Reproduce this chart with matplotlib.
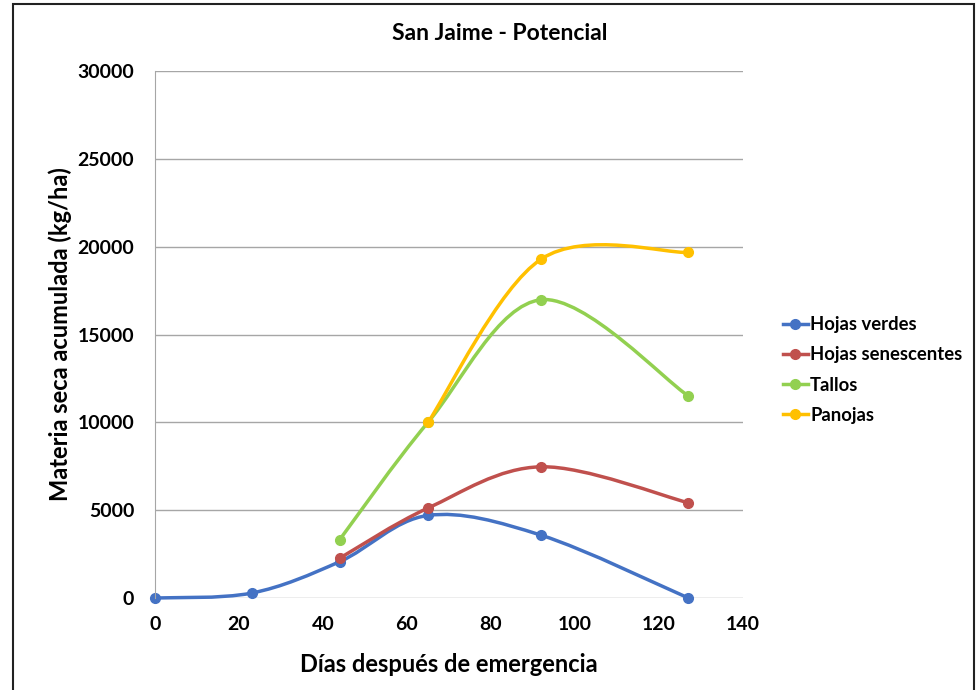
import numpy as np
import matplotlib
matplotlib.use("Agg")
import matplotlib.pyplot as plt
from matplotlib.path import Path
from matplotlib.patches import PathPatch, Rectangle
from matplotlib.lines import Line2D

plt.rcParams['font.family'] = ['Lato', 'DejaVu Sans']
plt.rcParams['font.weight'] = 'bold'

title = "San Jaime - Potencial"
xlabel = "Días después de emergencia"
ylabel = "Materia seca acumulada (kg/ha)"

verdes_x = [0, 23, 44, 65, 92, 127]
verdes_y = [0, 280, 2070, 4700, 3570, 0]
sen_x = [44, 65, 92, 127]
sen_y = [2270, 5120, 7470, 5420]
tallos_x = [44, 65, 92, 127]
tallos_y = [3330, 10000, 16980, 11500]
pan_x = [65, 92, 127]
pan_y = [10000, 19300, 19670]

series = [
    ("Hojas verdes", verdes_x, verdes_y, "#4472C4"),
    ("Hojas senescentes", sen_x, sen_y, "#C0504D"),
    ("Tallos", tallos_x, tallos_y, "#92D050"),
    ("Panojas", pan_x, pan_y, "#FFC000"),
]

def smooth_path(xs, ys):
    p = np.column_stack([xs, ys]).astype(float)
    n = len(p)
    verts = [p[0]]
    codes = [Path.MOVETO]
    for i in range(n - 1):
        p0 = p[i - 1] if i > 0 else p[i]
        p1 = p[i]
        p2 = p[i + 1]
        p3 = p[i + 2] if i + 2 < n else p[i + 1]
        c1 = p1 + (p2 - p0) / 6.0
        c2 = p2 - (p3 - p1) / 6.0
        verts += [c1, c2, p2]
        codes += [Path.CURVE4] * 3
    return Path(verts, codes)

fig = plt.figure(figsize=(9.76, 6.9), dpi=100)
ax = fig.add_axes([155/976, 1 - 598/690, (743-155)/976, (598-71)/690])

# outer border
fig.patches.append(Rectangle((13/976, -0.05), (974-13)/976, 1.05 - 4/690,
                             transform=fig.transFigure, fill=False,
                             edgecolor='#222222', linewidth=1.5))

ax.set_xlim(0, 140)
ax.set_ylim(0, 30000)
ax.set_xticks(np.arange(0, 141, 20))
ax.set_yticks(np.arange(0, 30001, 5000))
ax.yaxis.grid(True, color='#A6A6A6', linewidth=1.0)
ax.set_axisbelow(True)
for s in ['top', 'right', 'bottom']:
    ax.spines[s].set_visible(False)
ax.spines['left'].set_color('#A6A6A6')
ax.tick_params(axis='x', length=0, labelsize=14, pad=13)
ax.tick_params(axis='y', length=0, labelsize=14, pad=15)
for lab in ax.get_xticklabels() + ax.get_yticklabels():
    lab.set_fontweight('bold')

handles = []
for name, xs, ys, col in series:
    patch = PathPatch(smooth_path(xs, ys), facecolor='none', edgecolor=col,
                      linewidth=2.5, capstyle='round', joinstyle='round',
                      transform=ax.transData, clip_on=False)
    ax.add_patch(patch)
    ax.plot(xs, ys, linestyle='none', marker='o', markersize=7, color=col,
            clip_on=False)
    handles.append(Line2D([0], [0], color=col, linewidth=2.5, marker='o',
                          markersize=7, label=name))

fig.text(500/976, 1 - 33/690, title, fontsize=16.5, fontweight='bold',
         ha='center', va='center')
ax.set_xlabel(xlabel, fontsize=17, fontweight='bold', labelpad=14)
ax.set_ylabel(ylabel, fontsize=17, fontweight='bold', labelpad=4)

leg = fig.legend(handles=handles, loc='center left',
                 bbox_to_anchor=(777/976, 1 - 370/690), frameon=False,
                 fontsize=13.3, handlelength=1.4, handletextpad=0.1,
                 labelspacing=0.72, borderaxespad=0, borderpad=0.3)
for t in leg.get_texts():
    t.set_fontweight('bold')

fig.savefig("out.png", dpi=100)
